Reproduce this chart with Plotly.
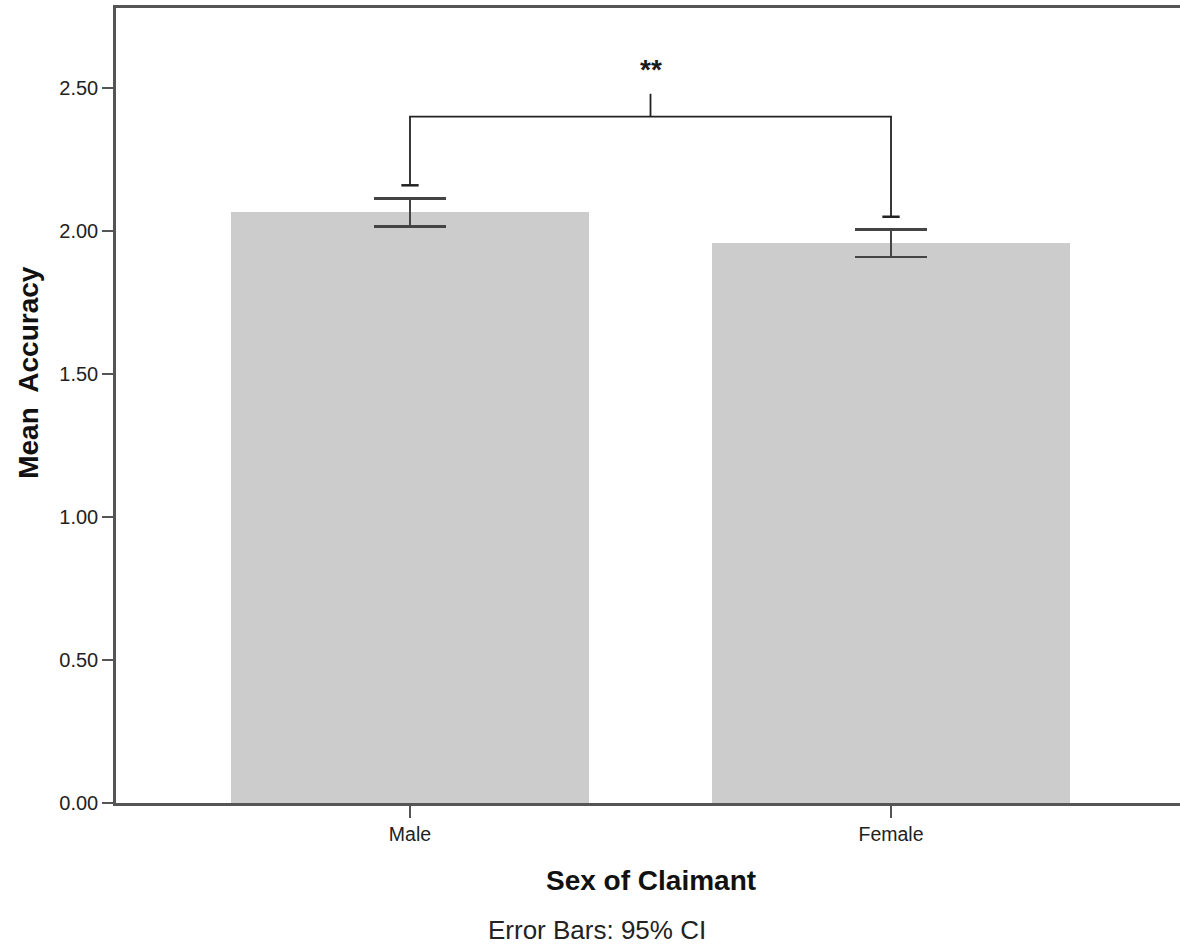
import plotly.graph_objects as go

# Mean accuracy by sex of claimant, with 95% confidence intervals
categories = ["Male", "Female"]
mean_accuracy = [2.065, 1.958]
ci_half_width = [0.049, 0.048]

# Significance bracket between the two groups
bracket_y = 2.40
bracket_leg_bottom = [2.16, 2.05]
bracket_top_tick = 2.48
significance_label = "**"

y_ticks = [0.0, 0.5, 1.0, 1.5, 2.0, 2.5]
y_tick_labels = ["0.00", "0.50", "1.00", "1.50", "2.00", "2.50"]

x_pos = list(range(len(categories)))
mid_x = (x_pos[0] + x_pos[1]) / 2

FONT = "Liberation Sans"

fig = go.Figure()

fig.add_trace(go.Bar(
    x=x_pos,
    y=mean_accuracy,
    width=0.746,
    marker=dict(color="#cccccc", line=dict(width=0)),
    error_y=dict(type="data", array=ci_half_width, symmetric=True,
                 color="#444444", thickness=2.5, width=36),
    showlegend=False,
    hoverinfo="skip",
))

line_style = dict(color="#222222", width=1.8)

# Bracket: left leg, horizontal bar, right leg
fig.add_trace(go.Scatter(
    x=[x_pos[0], x_pos[0], x_pos[1], x_pos[1]],
    y=[bracket_leg_bottom[0], bracket_y, bracket_y, bracket_leg_bottom[1]],
    mode="lines", line=line_style, showlegend=False, hoverinfo="skip",
))
# Centre tick
fig.add_trace(go.Scatter(
    x=[mid_x, mid_x], y=[bracket_y, bracket_top_tick],
    mode="lines", line=line_style, showlegend=False, hoverinfo="skip",
))
# Small caps at the bottom of each leg
for xi, yb in zip(x_pos, bracket_leg_bottom):
    fig.add_trace(go.Scatter(
        x=[xi - 0.018, xi + 0.018], y=[yb, yb],
        mode="lines", line=dict(color="#222222", width=2.5),
        showlegend=False, hoverinfo="skip",
    ))

fig.add_annotation(x=mid_x, y=2.566, text="<b>" + significance_label + "</b>",
                   showarrow=False, yanchor="middle",
                   font=dict(size=28, color="#1a1a1a", family=FONT))

axis_color = "#555555"

fig.update_xaxes(
    range=[-0.6112, 1.6008],
    tickvals=x_pos, ticktext=categories,
    showline=True, linecolor=axis_color, linewidth=2.5, mirror=True,
    ticks="outside", ticklen=12, tickwidth=2, tickcolor=axis_color,
    tickfont=dict(size=19.5, color="#222222", family=FONT),
    showgrid=False, zeroline=False,
)
fig.update_yaxes(
    range=[0, 2.78],
    tickvals=y_ticks, ticktext=y_tick_labels,
    showline=True, linecolor=axis_color, linewidth=2.5,
    ticks="outside", ticklen=11, tickwidth=2, tickcolor=axis_color,
    tickfont=dict(size=20, color="#222222", family=FONT),
    showgrid=False, zeroline=False,
)

fig.add_annotation(text="<b>Mean  Accuracy</b>", xref="paper", yref="paper",
                   x=-0.083, y=0.542, textangle=-90, showarrow=False,
                   xanchor="center", yanchor="middle",
                   font=dict(size=28, color="#111111", family=FONT))
fig.add_annotation(text="<b>Sex of Claimant</b>", xref="x", yref="paper",
                   x=mid_x, y=-0.098, showarrow=False, yanchor="middle",
                   font=dict(size=28, color="#111111", family=FONT))
fig.add_annotation(text="Error Bars: 95% CI", xref="paper", yref="paper",
                   x=(596.5 - 116) / 1064, y=-0.16, showarrow=False, yanchor="middle",
                   font=dict(size=26, color="#222222", family=FONT))

fig.update_layout(
    width=1180, height=951,
    margin=dict(l=116, r=0, t=8, b=148),
    paper_bgcolor="white", plot_bgcolor="white",
    bargap=0,
)

fig.write_html("out.html")
